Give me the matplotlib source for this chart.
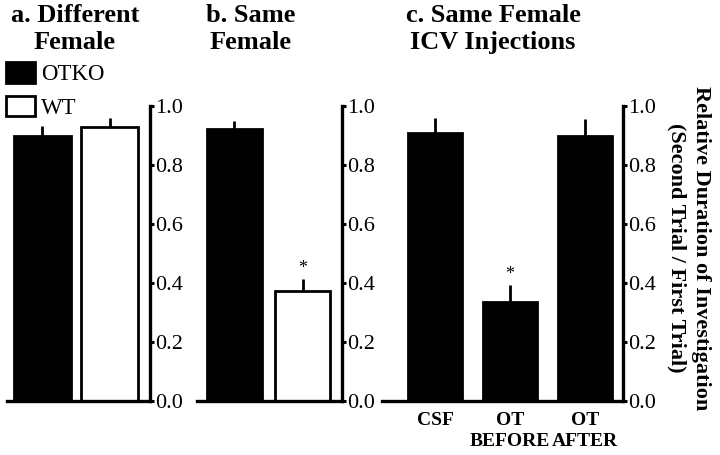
import matplotlib
matplotlib.use("Agg")
import matplotlib.pyplot as plt
from matplotlib.patches import Patch

plt.rcParams['font.family'] = ['Liberation Serif', 'DejaVu Serif']

# Data
a_groups = ["OTKO", "WT"]
a_values = [0.898, 0.929]
a_errors = [0.034, 0.031]

b_groups = ["OTKO", "WT"]
b_values = [0.922, 0.373]
b_errors = [0.027, 0.041]

c_groups = ["CSF", "OT\nBEFORE", "OT\nAFTER"]
c_values = [0.908, 0.336, 0.898]
c_errors = [0.051, 0.057, 0.058]

yticks = [0.0, 0.2, 0.4, 0.6, 0.8, 1.0]
ytick_labels = ["0.0", "0.2", "0.4", "0.6", "0.8", "1.0"]

fig = plt.figure(figsize=(7.2, 4.55), dpi=100)

bottom = 1 - 401 / 455
height = (401 - 106) / 455

def style_axis(ax):
    ax.spines['left'].set_visible(False)
    ax.spines['top'].set_visible(False)
    ax.spines['right'].set_linewidth(2.4)
    ax.spines['bottom'].set_linewidth(2.4)
    ax.yaxis.tick_right()
    ax.set_ylim(0, 1.0)
    ax.set_yticks(yticks)
    ax.set_yticklabels(ytick_labels)
    ax.tick_params(axis='y', direction='out', length=3, width=2.2, labelsize=16, pad=1)
    ax.tick_params(axis='x', length=0)

def draw(ax, values, errors, colors, width, xlim):
    xs = list(range(len(values)))
    ax.bar(xs, values, width=width, color=colors, edgecolor='black', linewidth=2.0, zorder=2)
    ax.errorbar(xs, values, yerr=[[0] * len(values), errors], fmt='none',
                ecolor='black', elinewidth=2.0, capsize=0, zorder=1)
    ax.set_xlim(*xlim)
    return xs

# Panel a
ax_a = fig.add_axes([7 / 720, bottom, 143 / 720, height])
draw(ax_a, a_values, a_errors, ['black', 'white'], 0.845, (-0.526, 1.593))
style_axis(ax_a)
ax_a.set_xticks([])

# Panel b
ax_b = fig.add_axes([197 / 720, bottom, 145 / 720, height])
xs_b = draw(ax_b, b_values, b_errors, ['black', 'white'], 0.81, (-0.55, 1.58))
style_axis(ax_b)
ax_b.set_xticks([])
ax_b.text(xs_b[1], b_values[1] + b_errors[1] + 0.008, "*", ha='center', va='bottom', fontsize=13)

# Panel c
ax_c = fig.add_axes([382 / 720, bottom, 241 / 720, height])
xs_c = draw(ax_c, c_values, c_errors, ['black', 'black', 'black'], 0.72, (-0.707, 2.507))
style_axis(ax_c)
ax_c.set_xticks(xs_c)
ax_c.set_xticklabels(c_groups, fontsize=14, fontweight='bold', linespacing=1.3)
ax_c.tick_params(axis='x', pad=8)
ax_c.text(xs_c[1], c_values[1] + c_errors[1] + 0.008, "*", ha='center', va='bottom', fontsize=13)

# Titles
fig.text(75 / 720, 1 - 4 / 455, "a. Different\nFemale", ha='center', va='top',
         fontsize=19, fontweight='bold', linespacing=1.22)
fig.text(251 / 720, 1 - 4 / 455, "b. Same\nFemale", ha='center', va='top',
         fontsize=19, fontweight='bold', linespacing=1.22)
fig.text(493 / 720, 1 - 4 / 455, "c. Same Female\nICV Injections", ha='center', va='top',
         fontsize=19, fontweight='bold', linespacing=1.22)

# Y label
fig.text(689 / 720, 1 - 248 / 455,
         "Relative Duration of Investigation\n(Second Trial / First Trial)",
         rotation=-90, ha='center', va='center', fontsize=16, fontweight='bold',
         linespacing=1.3)

# Legend
handles = [Patch(facecolor='black', edgecolor='black', linewidth=2.0, label='OTKO'),
           Patch(facecolor='white', edgecolor='black', linewidth=2.0, label='WT')]
fig.legend(handles=handles, loc='upper left', bbox_to_anchor=(4 / 720, 1 - 60 / 455),
           frameon=False, fontsize=16.5, handlelength=1.25, handleheight=1.0,
           handletextpad=0.25, labelspacing=0.45, borderpad=0.1, borderaxespad=0)

fig.savefig("out.png", dpi=100)
